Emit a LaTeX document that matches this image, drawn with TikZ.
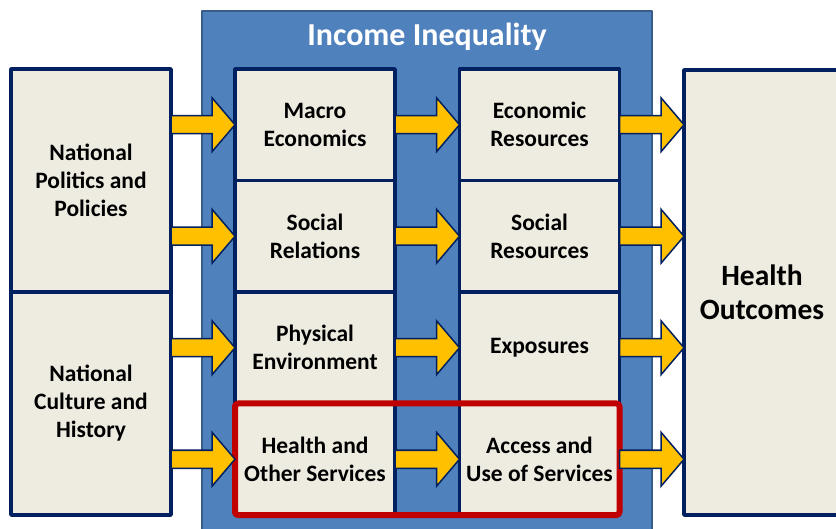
\documentclass[tikz,border=0pt]{standalone}
\usepackage{fontspec}
\setmainfont{Carlito}
\usetikzlibrary{calc}
\definecolor{ineqblue}{HTML}{4F81BD}
\definecolor{ineqedge}{HTML}{385D8A}
\definecolor{boxtan}{HTML}{EEECE1}
\definecolor{navy}{HTML}{002060}
\definecolor{flowyellow}{HTML}{FFC000}
\definecolor{focusred}{HTML}{C00000}
% block arrow: x from the first point, tip and y at the second
\newcommand\flowarrow[2]{\draw[flow] let \p1=#1,\p2=#2 in
  (\x1,\y2+9)--(\x2-23,\y2+9)--(\x2-23,\y2+27)--(\x2,\y2)
  --(\x2-23,\y2-27)--(\x2-23,\y2-9)--(\x1,\y2-9)--cycle;}
\begin{document}
\begin{tikzpicture}[x=1pt,y=-1pt,line join=round,
  box/.style={draw=navy,fill=boxtan,line width=3.5pt,outer sep=0pt,align=center,
    inner sep=2pt,minimum width=160pt,minimum height=111.5pt,
    font=\fontsize{23.5}{28}\selectfont\bfseries},
  flow/.style={draw=navy,fill=flowyellow,line width=1.5pt,line join=miter},
  ineqbg/.style={fill=ineqblue,draw=ineqedge,line width=1.5pt},
  focus/.style={draw=focusred,line width=6pt,rounded corners=3pt}]
\clip (0,0) rectangle (836,529);
\fill[white] (0,0) rectangle (836,529);
\draw[ineqbg] (202,11) rectangle (652,545);
\node[text=white,font=\fontsize{32}{38}\selectfont\bfseries] (ineq) at (427,37) {Income Inequality};
% left column
\node[box,minimum height=223pt] (pol) at (91,180.5) {National\\Politics and\\Policies};
\node[box,minimum height=223pt] (cul) at (91,403.5) {National\\Culture and\\History};
% middle columns
\node[box] (mac) at (315,124.75) {Macro\\Economics};
\node[box] (rel) at (315,236.25) {Social\\Relations};
\node[box] (env) at (315,347.75) {Physical\\Environment};
\node[box] (srv) at (315,459.25) {Health and\\Other Services};
\node[box] (eco) at (539.5,124.75) {Economic\\Resources};
\node[box] (soc) at (539.5,236.25) {Social\\Resources};
\node[box] (exp) at (539.5,347.75) {Exposures};
\node[box] (use) at (539.5,459.25) {Access and\\Use of Services};
% outcome
\node[box,minimum width=156pt,minimum height=445pt,font=\fontsize{29.5}{34}\selectfont\bfseries]
  (out) at (762,292.5) {Health\\Outcomes};
\draw[focus] (srv.north west) rectangle (use.south east);
% arrows
\flowarrow{(pol.east)}{(mac.west)}
\flowarrow{(pol.east)}{(rel.west)}
\flowarrow{(cul.east)}{(env.west)}
\flowarrow{(cul.east)}{(srv.west)}
\flowarrow{(mac.east)}{(eco.west)}
\flowarrow{(rel.east)}{(soc.west)}
\flowarrow{(env.east)}{(exp.west)}
\flowarrow{(srv.east)}{(use.west)}
\flowarrow{(eco.east)}{(out.west |- eco)}
\flowarrow{(soc.east)}{(out.west |- soc)}
\flowarrow{(exp.east)}{(out.west |- exp)}
\flowarrow{(use.east)}{(out.west |- use)}
\end{tikzpicture}
\end{document}
